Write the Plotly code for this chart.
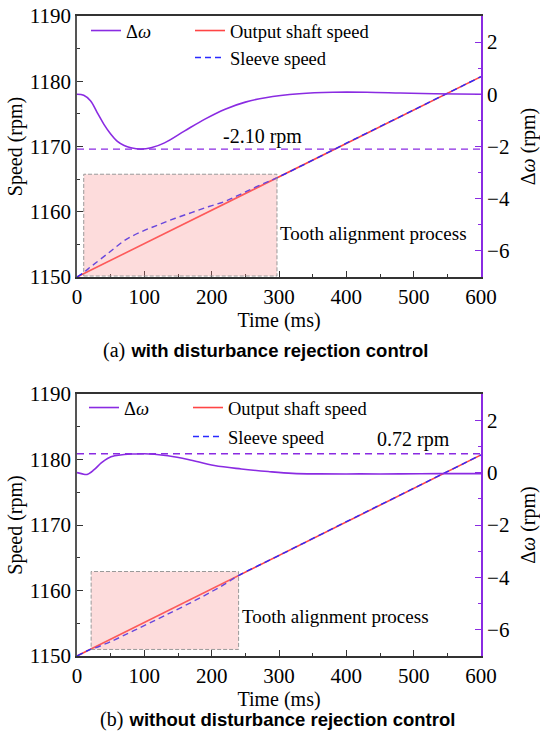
import plotly.graph_objects as go
from plotly.subplots import make_subplots

# ---------------- data ----------------
# (a) with disturbance rejection control
t_dw_a = [0, 10, 20, 30, 40, 50, 60, 70, 80, 95, 110, 130, 160, 190, 220, 250, 280, 330, 380, 430, 480, 530, 600]
dw_a = [0, -0.04, -0.25, -0.7, -1.15, -1.52, -1.8, -1.96, -2.05, -2.10, -2.05, -1.86, -1.40, -0.95, -0.57, -0.3, -0.13, 0.02, 0.08, 0.08, 0.05, 0.02, 0.0]
t_out = [0, 100, 200, 300, 400, 500, 600]
out_a = [1150, 1155.1, 1160.2, 1165.35, 1170.5, 1175.6, 1180.7]
t_sl_a = [0, 10, 22, 47, 72, 97, 121, 146, 171, 196, 220, 245, 270, 300, 400, 500, 600]
sl_a = [1150, 1150.7, 1151.7, 1153.7, 1155.7, 1157.0, 1158.0, 1159.0, 1159.9, 1160.8, 1161.6, 1162.8, 1164.0, 1165.35, 1170.5, 1175.6, 1180.7]
ref_a = -2.10

# (b) without disturbance rejection control
t_dw_b = [0, 8, 15, 25, 36, 46, 56, 70, 85, 100, 115, 135, 165, 204, 244, 284, 320, 360, 420, 480, 540, 600]
dw_b = [0, -0.05, -0.07, 0.1, 0.37, 0.55, 0.64, 0.69, 0.71, 0.72, 0.70, 0.64, 0.5, 0.27, 0.14, 0.04, -0.03, -0.05, -0.05, -0.05, -0.04, -0.04]
out_b = [1150, 1155.1, 1160.2, 1165.35, 1170.5, 1175.6, 1180.7]
t_sl_b = [0, 20, 26, 50, 85, 130, 185, 220, 240, 300, 400, 500, 600]
sl_b = [1150, 1151.0, 1151.2, 1152.2, 1153.9, 1156.15, 1159.0, 1161.0, 1162.29, 1165.35, 1170.5, 1175.6, 1180.7]
ref_b = 0.72

x_ticks = [0, 100, 200, 300, 400, 500, 600]

PURPLE = "#8A2BE2"
RED = "#FF4545"
BLUE = "#2A2AFF"
SERIF = "Liberation Serif"
W, H = 540, 732

fig = make_subplots(rows=2, cols=1, specs=[[{"secondary_y": True}], [{"secondary_y": True}]])

# panel a
fig.add_trace(go.Scatter(x=t_dw_a, y=dw_a, mode="lines", line=dict(color=PURPLE, width=1.6, shape="spline"),
                         name="Δ<i>ω</i>", legend="legend"), row=1, col=1, secondary_y=True)
fig.add_trace(go.Scatter(x=[0, 600], y=[ref_a, ref_a], mode="lines", line=dict(color=PURPLE, width=1.4, dash="7px,5px"),
                         showlegend=False), row=1, col=1, secondary_y=True)
fig.add_trace(go.Scatter(x=t_out, y=out_a, mode="lines", line=dict(color=RED, width=1.6),
                         name="Output shaft speed", legend="legend2"), row=1, col=1, secondary_y=False)
fig.add_trace(go.Scatter(x=t_sl_a, y=sl_a, mode="lines", line=dict(color=BLUE, width=1.4, dash="6px,4px", shape="spline"),
                         name="Sleeve speed", legend="legend3"), row=1, col=1, secondary_y=False)

# panel b
fig.add_trace(go.Scatter(x=t_dw_b, y=dw_b, mode="lines", line=dict(color=PURPLE, width=1.6, shape="spline"),
                         name="Δ<i>ω</i>", legend="legend4"), row=2, col=1, secondary_y=True)
fig.add_trace(go.Scatter(x=[0, 600], y=[ref_b, ref_b], mode="lines", line=dict(color=PURPLE, width=1.4, dash="7px,5px"),
                         showlegend=False), row=2, col=1, secondary_y=True)
fig.add_trace(go.Scatter(x=t_out, y=out_b, mode="lines", line=dict(color=RED, width=1.6),
                         name="Output shaft speed", legend="legend5"), row=2, col=1, secondary_y=False)
fig.add_trace(go.Scatter(x=t_sl_b, y=sl_b, mode="lines", line=dict(color=BLUE, width=1.4, dash="6px,4px", shape="spline"),
                         name="Sleeve speed", legend="legend6"), row=2, col=1, secondary_y=False)

xdom = [77 / W, 481 / W]
ydom_a = [1 - 277 / H, 1 - 16 / H]
ydom_b = [1 - 656 / H, 1 - 394 / H]

tickfont = dict(family=SERIF, size=21, color="black")
titlefont = dict(family=SERIF, size=20, color="black")

xcommon = dict(range=[0, 600], tickvals=x_ticks, ticks="inside", ticklen=6, tickwidth=1.2, tickcolor="#333",
               minor=dict(ticks="inside", ticklen=3, dtick=50, tickcolor="#333"),
               showline=True, linecolor="#333", linewidth=1.6, mirror=True, showgrid=False, zeroline=False,
               tickfont=tickfont, title=dict(text="Time (ms)", font=titlefont, standoff=0), domain=xdom,
               automargin=False)
fig.update_layout(xaxis=xcommon, xaxis2=xcommon)

ycommon = dict(range=[1150, 1190], dtick=10, ticks="inside", ticklen=6, tickwidth=1.2, tickcolor="#333",
               minor=dict(ticks="inside", ticklen=3, dtick=5, tickcolor="#333"),
               showline=True, linecolor="#555", linewidth=1.8, mirror=False, showgrid=False, zeroline=False,
               tickfont=tickfont, title=dict(text="Speed (rpm)", font=titlefont, standoff=2), automargin=False)
y2common = dict(range=[-7, 3], tickvals=[-6, -4, -2, 0, 2], ticks="inside", ticklen=6, tickwidth=1.2, tickcolor=PURPLE,
                minor=dict(ticks="inside", ticklen=3, tickvals=[-5, -3, -1, 1], tickcolor=PURPLE),
                showline=True, linecolor=PURPLE, linewidth=1.8, showgrid=False, zeroline=False,
                tickfont=tickfont, title=dict(text="Δ<i>ω</i> (rpm)", font=titlefont, standoff=24),
                automargin=False)
fig.update_layout(yaxis=dict(ycommon, domain=ydom_a), yaxis2=dict(y2common),
                  yaxis3=dict(ycommon, domain=ydom_b), yaxis4=dict(y2common))

legfont = dict(family=SERIF, size=18.5, color="black")
legbase = dict(orientation="h", bgcolor="rgba(0,0,0,0)", font=legfont, xanchor="left", yanchor="middle",
               itemwidth=30)
fig.update_layout(
    legend=dict(legbase, x=86 / W, y=1 - 31 / H),
    legend2=dict(legbase, x=190 / W, y=1 - 31 / H),
    legend3=dict(legbase, x=190 / W, y=1 - 58 / H),
    legend4=dict(legbase, x=84 / W, y=1 - 408 / H),
    legend5=dict(legbase, x=188 / W, y=1 - 408 / H),
    legend6=dict(legbase, x=188 / W, y=1 - 437 / H),
)

rect_style = dict(type="rect", fillcolor="rgba(248,140,140,0.3)", line=dict(color="#999", width=1, dash="4px,2px"),
                  layer="above")
fig.add_shape(rect_style, xref="x", yref="y", x0=10, x1=297, y0=1150.15, y1=1165.75)
fig.add_shape(rect_style, xref="x2", yref="y3", x0=21, x1=240, y0=1151.0, y1=1162.9)

annfont = dict(family=SERIF, size=19, color="black")
lblfont = dict(family=SERIF, size=20, color="black")
fig.add_annotation(xref="x", yref="y", x=441, y=1156.7, text="Tooth alignment process", showarrow=False, font=annfont)
fig.add_annotation(xref="x2", yref="y3", x=384, y=1156.1, text="Tooth alignment process", showarrow=False, font=annfont)
fig.add_annotation(xref="x", yref="y2", x=275, y=-1.6, text="-2.10 rpm", showarrow=False, font=lblfont)
fig.add_annotation(xref="x2", yref="y4", x=500, y=1.26, text="0.72 rpm", showarrow=False, font=lblfont)

cap = ("<span style='font-family:Liberation Serif;font-size:20px'>({})</span>&nbsp;&nbsp;"
       "<b><span style='font-family:Liberation Sans;font-size:18.5px'>{}</span></b>")
fig.add_annotation(xref="paper", yref="paper", x=266 / W, y=1 - 350 / H, showarrow=False,
                   xanchor="center", yanchor="middle",
                   text=cap.format("a", "with disturbance rejection control"), font=dict(color="black"))
fig.add_annotation(xref="paper", yref="paper", x=277 / W, y=1 - 719 / H, showarrow=False,
                   xanchor="center", yanchor="middle",
                   text=cap.format("b", "without disturbance rejection control"), font=dict(color="black"))

fig.update_layout(width=W, height=H, margin=dict(l=0, r=0, t=0, b=0, autoexpand=False), paper_bgcolor="white",
                  plot_bgcolor="white", showlegend=True)

fig.write_html("out.html")
